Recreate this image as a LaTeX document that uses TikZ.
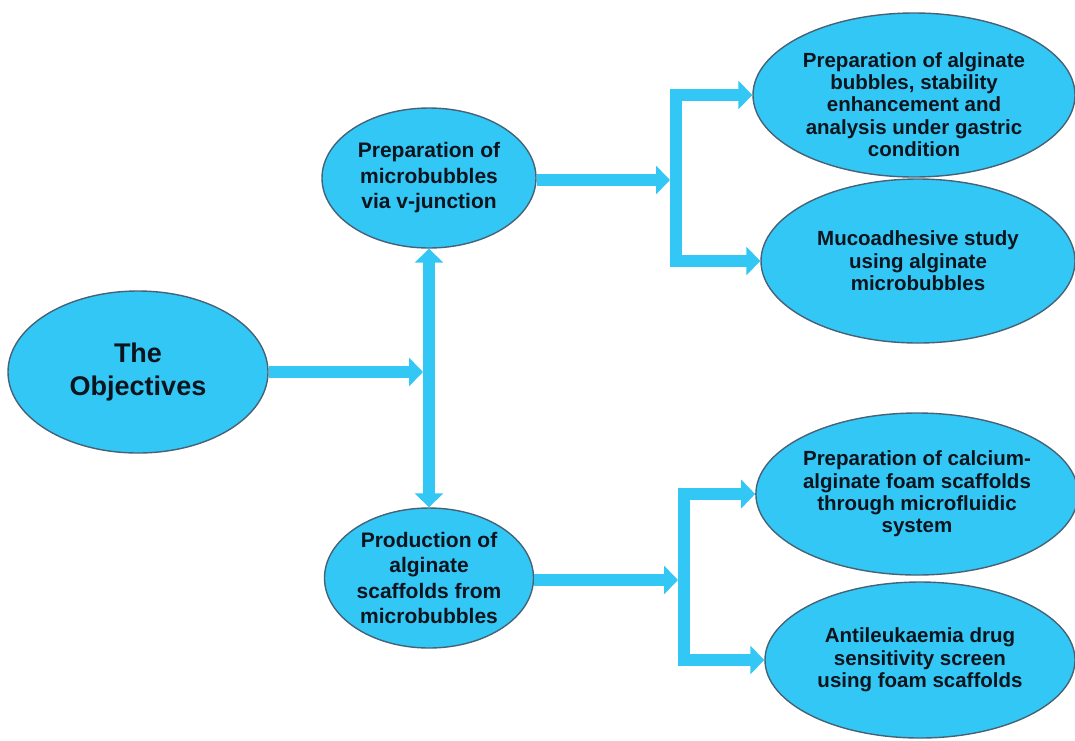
\documentclass[tikz,border=0pt]{standalone}
\usepackage{fontspec}
\setmainfont{Liberation Sans}
\usepackage{xcolor}
\usetikzlibrary{shapes.geometric}
\usetikzlibrary{arrows.meta}
\definecolor{bubble}{RGB}{51,199,245}
\definecolor{rim}{RGB}{70,98,118}
\definecolor{ink}{RGB}{12,20,30}

\begin{document}
\begin{tikzpicture}[x=1pt,y=-1pt,aim/.style={draw=rim,line width=1.4pt,fill=bubble,ellipse,inner sep=0pt,align=center,text=ink,font=\fontsize{27}{33}\selectfont\bfseries},sub/.style={draw=rim,line width=1.4pt,fill=bubble,ellipse,inner sep=0pt,align=center,text=ink,font=\fontsize{21}{25.5}\selectfont\bfseries},task/.style={draw=rim,line width=1.4pt,fill=bubble,ellipse,inner sep=0pt,align=center,text=ink,font=\fontsize{20.5}{22.4}\selectfont\bfseries},pipe/.style={line width=12pt,draw=bubble,line join=miter,>={Triangle[length=14pt,width=28pt]}}]
                \useasboundingbox (0,0) rectangle (1075,740);
                % left and middle
                \node[aim,minimum width=260pt,minimum height=162pt] (obj) at (138,372) {The\\Objectives};
                \node[sub,minimum width=214pt,minimum height=140pt] (mb) at (429,178) {Preparation of\\microbubbles\\via v-junction};
                \node[sub,minimum width=209pt,minimum height=140pt] (prod) at (429,578) {Production of\\alginate\\scaffolds from\\microbubbles};
                % right
                \node[task,inner ysep=-16pt,minimum width=322pt,minimum height=164pt] (g1) at (914,95) {\rule{0pt}{34pt}Preparation of alginate\\bubbles, stability\\enhancement and\\analysis under gastric\\condition};
                \node[task,minimum width=314pt,minimum height=164pt] (g2) at (918,261) {Mucoadhesive study\\using alginate\\microbubbles};
                \node[task,minimum width=312pt,minimum height=162pt] (g3) at (917,494) {Preparation of calcium-\\alginate foam scaffolds\\through microfluidic\\system};
                \node[task,minimum width=310pt,minimum height=156pt] (g4) at (920,660) {Antileukaemia drug\\sensitivity screen\\using foam scaffolds};
                \coordinate (hub) at (mb.south |- obj.east);
                \coordinate (jt) at (676,180);
                \coordinate (jb) at (684,580);
                % arrows
                \draw[pipe,<->] (mb.south) -- (prod.north);
                \draw[pipe,->,shorten >=6pt] (obj.east) -- (hub);
                \draw[pipe,->,shorten >=6pt] (mb.east |- jt) -- (jt);
                \draw[pipe,<->] (g1.west) -| (jt) |- (g2.west);
                \draw[pipe,->,shorten >=6pt] (prod.east |- jb) -- (jb);
                \draw[pipe,<->] (g3.west) -| (jb) |- (g4.west);
                \end{tikzpicture}
\end{document}
